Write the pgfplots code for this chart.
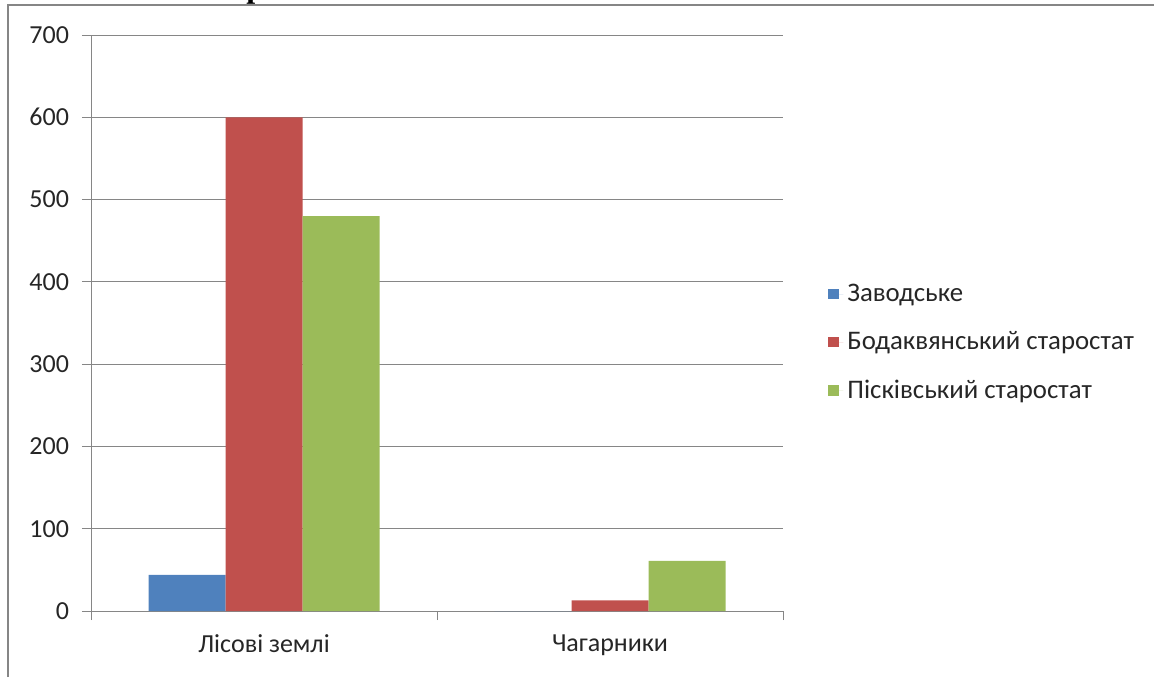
\documentclass[border=0pt]{standalone}
\usepackage{pgfplots}
\pgfplotsset{compat=1.18}
\usepackage{fontspec}
\setmainfont{Carlito}
\newfontfamily\titlefont{Liberation Serif}

\definecolor{zavblue}{HTML}{4F81BD}
\definecolor{bodred}{HTML}{C0504D}
\definecolor{pisgreen}{HTML}{9BBB59}
\definecolor{gridgray}{HTML}{868686}

\pgfplotsset{
  sqlegend/.style={legend image code/.code={%
      \fill[##1] (0pt,-2.6pt) rectangle (5.2pt,2.6pt);
      \path (0pt,0pt) -- (7.6pt,0pt);}},
}

\begin{document}
\begin{tikzpicture}
% page: 1154x677 px of the reference at 0.5pt per px
\useasboundingbox (0,0) rectangle (577pt,338.5pt);
\draw[gridgray, line width=1pt] (4pt,0) -- (4pt,336.25pt) -- (577pt,336.25pt);
\begin{scope}
  \clip (0,336pt) rectangle (577pt,338.5pt);
  \node[anchor=base west, inner sep=0pt, font=\titlefont\bfseries\fontsize{16}{18}\selectfont] at (123pt,340pt) {р};
\end{scope}
\begin{axis}[
    at={(45.5pt,33pt)}, anchor=south west,
    scale only axis,
    width=346pt, height=288pt,
    ybar=0pt, bar width=38.5pt,
    xmin=-0.5, xmax=1.5,
    ymin=0, ymax=700,
    xtick={0,1},
    xticklabels={Лісові землі, Чагарники},
    major x tick style={draw=none},
    minor xtick={-0.5,0.5,1.5},
    ytick={0,100,...,700},
    tick align=outside,
    major tick length=4.5pt, minor tick length=4.5pt,
    axis x line*=bottom, axis y line*=left,
    ymajorgrids,
    grid style={gridgray, line width=0.5pt},
    axis line style={gridgray, line width=0.5pt},
    tick style={gridgray, line width=0.5pt},
    tick label style={font=\fontsize{13}{15}\selectfont, text=black!85},
    yticklabel style={xshift=-3pt},
    xticklabel style={yshift=-4pt},
    /pgf/number format/assume math mode=true,
    legend cell align=left,
    legend style={at={(1.056,0.466)}, anchor=west, draw=none, fill=none,
        font=\fontsize{13.4}{15}\selectfont, text=black!85,
        row sep=9.6pt},
]
\addplot[fill=zavblue, draw=none, sqlegend] coordinates {(0,44) (1,0)};
\addplot[fill=bodred, draw=none, sqlegend] coordinates {(0,600) (1,13)};
\addplot[fill=pisgreen, draw=none, sqlegend] coordinates {(0,480) (1,61)};
\legend{Заводське, Бодаквянський старостат, Пісківський старостат}
\end{axis}
\end{tikzpicture}
\end{document}
